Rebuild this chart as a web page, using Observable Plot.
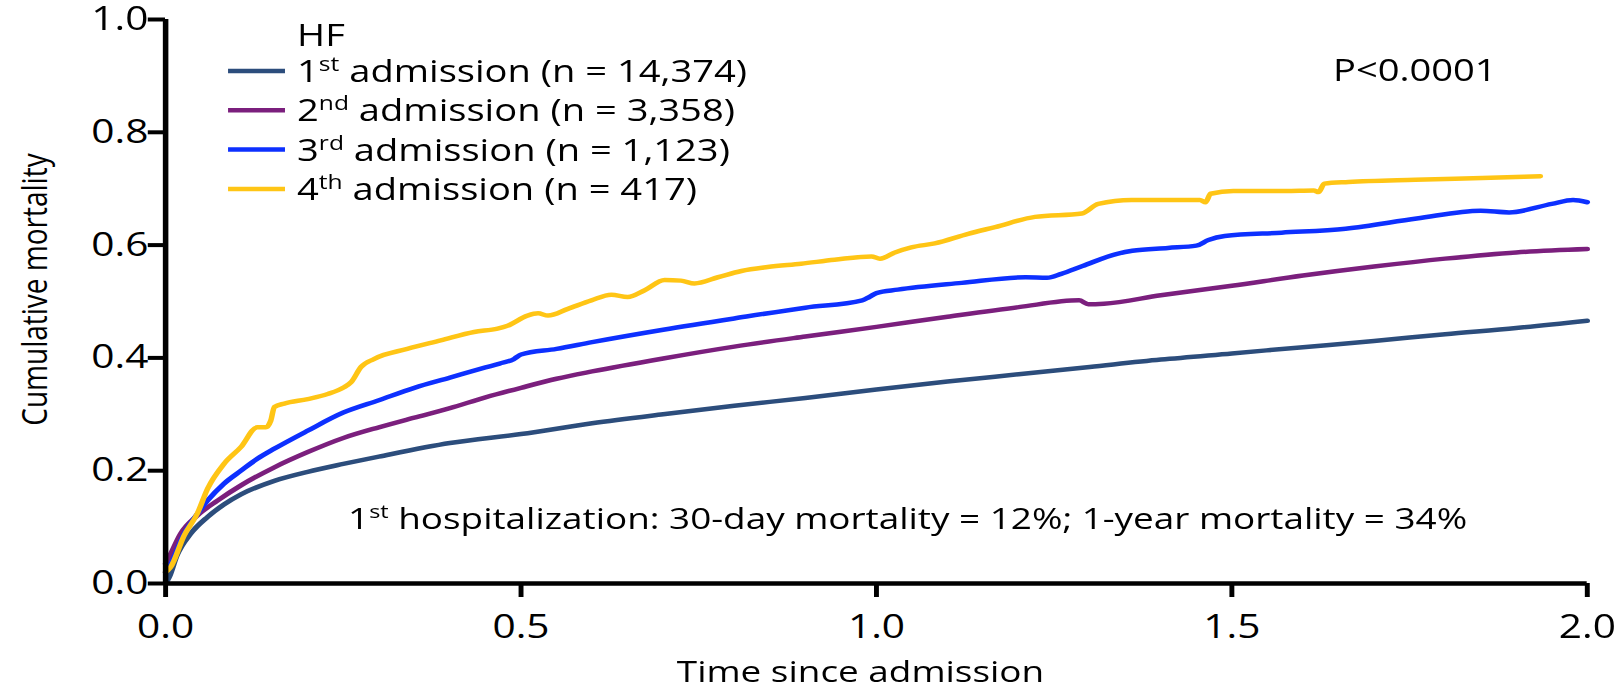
<!DOCTYPE html>
<html>
<head>
<meta charset="utf-8">
<script src="https://cdn.jsdelivr.net/npm/d3@7"></script>
<script src="https://cdn.jsdelivr.net/npm/@observablehq/plot@0.6"></script>
<style>
  html, body { margin: 0; padding: 0; background: #fff; overflow: hidden; }
  #wrap { transform-origin: 0 0; }
</style>
</head>
<body>
<div id="wrap"></div>
<script>
// ---- data ----
const seriesOrdinals = ["1", "2", "3", "4"];
const seriesSuffix = ["st", "nd", "rd", "th"];
const seriesCounts = ["14,374", "3,358", "1,123", "417"];
const seriesColors = ["#2c4d7c", "#7b1f7d", "#0d30ff", "#ffc515"];

const t1 = [0, 0.005, 0.016, 0.035, 0.059, 0.082, 0.106, 0.153, 0.2, 0.25, 0.3, 0.4, 0.5, 0.6, 0.7, 0.8, 0.9, 1.0, 1.1, 1.2, 1.3, 1.4, 1.5, 1.6, 1.7, 1.8, 1.9, 2.0];
const m1 = [0, 0.011, 0.050, 0.088, 0.118, 0.140, 0.158, 0.182, 0.198, 0.212, 0.225, 0.249, 0.265, 0.284, 0.300, 0.315, 0.329, 0.344, 0.358, 0.371, 0.384, 0.397, 0.408, 0.419, 0.430, 0.442, 0.453, 0.466];

const t2 = [0, 0.005, 0.021, 0.045, 0.073, 0.106, 0.153, 0.2, 0.25, 0.3, 0.35, 0.4, 0.45, 0.5, 0.55, 0.6, 0.7, 0.8, 0.9, 1.0, 1.1, 1.2, 1.285, 1.298, 1.32, 1.4, 1.5, 1.6, 1.7, 1.8, 1.9, 2.0];
const m2 = [0.035, 0.047, 0.088, 0.121, 0.147, 0.174, 0.206, 0.233, 0.258, 0.277, 0.294, 0.311, 0.330, 0.347, 0.363, 0.376, 0.399, 0.420, 0.438, 0.455, 0.473, 0.490, 0.502, 0.495, 0.496, 0.511, 0.528, 0.546, 0.562, 0.576, 0.587, 0.593];

const t3 = [0, 0.005, 0.026, 0.045, 0.059, 0.082, 0.106, 0.129, 0.153, 0.2, 0.25, 0.3, 0.35, 0.4, 0.45, 0.47, 0.49, 0.5, 0.55, 0.6, 0.7, 0.8, 0.9, 0.98, 0.99, 1.0, 1.03, 1.12, 1.21, 1.24, 1.26, 1.29, 1.34, 1.36, 1.41, 1.45, 1.467, 1.49, 1.57, 1.66, 1.76, 1.85, 1.89, 1.95, 1.98, 2.0];
const m3 = [0.02, 0.029, 0.088, 0.124, 0.147, 0.177, 0.200, 0.221, 0.239, 0.271, 0.303, 0.325, 0.347, 0.365, 0.383, 0.390, 0.398, 0.406, 0.416, 0.428, 0.450, 0.470, 0.489, 0.502, 0.508, 0.515, 0.521, 0.533, 0.543, 0.542, 0.549, 0.563, 0.585, 0.590, 0.595, 0.599, 0.609, 0.616, 0.622, 0.629, 0.647, 0.661, 0.658, 0.673, 0.680, 0.676];

const t4 = [0, 0.007, 0.026, 0.045, 0.059, 0.082, 0.106, 0.129, 0.141, 0.148, 0.153, 0.167, 0.2, 0.228, 0.251, 0.261, 0.275, 0.293, 0.34, 0.387, 0.434, 0.467, 0.481, 0.509, 0.524, 0.538, 0.566, 0.599, 0.627, 0.650, 0.674, 0.702, 0.725, 0.744, 0.777, 0.81, 0.847, 0.894, 0.941, 0.993, 1.005, 1.026, 1.049, 1.082, 1.129, 1.167, 1.223, 1.289, 1.312, 1.359, 1.40, 1.455, 1.463, 1.470, 1.502, 1.575, 1.615, 1.622, 1.630, 1.664, 1.758, 1.852, 1.934];
const m4 = [0.02, 0.029, 0.085, 0.125, 0.168, 0.212, 0.242, 0.277, 0.277, 0.289, 0.313, 0.319, 0.327, 0.336, 0.348, 0.357, 0.384, 0.398, 0.416, 0.431, 0.446, 0.452, 0.457, 0.475, 0.479, 0.475, 0.487, 0.502, 0.512, 0.508, 0.520, 0.538, 0.537, 0.532, 0.543, 0.554, 0.561, 0.567, 0.574, 0.580, 0.576, 0.587, 0.596, 0.603, 0.620, 0.632, 0.650, 0.656, 0.673, 0.680, 0.680, 0.680, 0.676, 0.691, 0.696, 0.696, 0.697, 0.694, 0.709, 0.712, 0.716, 0.719, 0.722];

const xTicks = [0, 0.5, 1.0, 1.5, 2.0];
const yTicks = [0, 0.2, 0.4, 0.6, 0.8, 1.0];
const xTitle = "Time since admission";
const yTitle = "Cumulative mortality";
const legendTitle = "HF";
const pText = "P<0.0001";
const noteParts = ["1", "st", " hospitalization: 30-day mortality = 12%; 1-year mortality = 34%"];

// ---- build table ----
const seriesKeys = seriesOrdinals.map((o, i) => o + seriesSuffix[i]);
const allT = [t1, t2, t3, t4], allM = [m1, m2, m3, m4];
const rows = [];
allT.forEach((ts, i) => ts.forEach((t, j) => rows.push({series: seriesKeys[i], t, m: allM[i][j]})));

// ---- layout ----
const SX = 1.23;             // horizontal stretch of the reference
const W = Math.round(1619 / SX);
const H = 690;
const wrap = document.getElementById("wrap");
wrap.style.width = W + "px";
wrap.style.height = H + "px";
wrap.style.transform = `scaleX(${SX})`;

const FONT = "'Open Sans', 'Noto Sans', sans-serif";

const plot = Plot.plot({
  width: W,
  height: H,
  marginLeft: 165 / SX,
  marginRight: 32 / SX,
  marginTop: 19,
  marginBottom: 107,
  x: {domain: [0, 2]},
  y: {domain: [0, 1]},
  color: {domain: seriesKeys, range: seriesColors},
  style: {fontFamily: FONT, fontSize: "33px", color: "#000", background: "#fff", overflow: "visible"},
  marks: [
    Plot.lineY(rows, {x: "t", y: "m", stroke: "series", curve: "monotone-x", strokeWidth: 4.5}),
    Plot.axisX({ticks: xTicks, tickFormat: d3.format(".1f"), tickSize: 14, tickPadding: 17, strokeWidth: 4, label: null}),
    Plot.axisY({ticks: yTicks, tickFormat: d3.format(".1f"), tickSize: 14, tickPadding: 0, strokeWidth: 4, label: null}),
    Plot.ruleX([0], {strokeWidth: 4.5}),
    Plot.ruleY([0], {strokeWidth: 4.5}),
    Plot.text([xTitle], {text: d => d, frameAnchor: "bottom", lineAnchor: "middle", dy: 89, dx: -13, fontSize: 30}),
    Plot.text([yTitle], {text: d => d, frameAnchor: "left", rotate: -90, textAnchor: "middle", lineAnchor: "middle", dx: -105, dy: -12, fontSize: 28})
  ]
});
wrap.appendChild(plot);

// ---- legend, p-value, note (texts with superscripts) ----
const svg = d3.select(plot);
const g = svg.append("g")
  .attr("font-family", FONT).attr("font-size", 31).attr("fill", "#000")
  .attr("text-anchor", "start");

const legX0 = 185.4, legX1 = 231.7, legTextX = 241.5;
const titleY = 35, rowY0 = 71, rowStep = 39.3;
const capOff = 11;

g.append("text").attr("x", legTextX).attr("y", titleY + capOff).text(legendTitle);
seriesKeys.forEach((k, i) => {
  const cy = rowY0 + i * rowStep;
  g.append("line").attr("x1", legX0).attr("x2", legX1).attr("y1", cy).attr("y2", cy)
    .attr("stroke", seriesColors[i]).attr("stroke-width", 4.5);
  const t = g.append("text").attr("x", legTextX).attr("y", cy + capOff);
  t.append("tspan").text(seriesOrdinals[i]);
  t.append("tspan").attr("font-size", 20).attr("dy", -11).text(seriesSuffix[i]);
  t.append("tspan").attr("dy", 11).text(` admission (n = ${seriesCounts[i]})`);
});

g.append("text").attr("x", 1083.7).attr("y", 70 + capOff).text(pText);

const note = g.append("text").attr("x", 283).attr("y", 518 + 10.7).attr("font-size", 30);
note.append("tspan").text(noteParts[0]);
note.append("tspan").attr("font-size", 19).attr("dy", -11).text(noteParts[1]);
note.append("tspan").attr("dy", 11).text(noteParts[2]);
</script>
</body>
</html>
